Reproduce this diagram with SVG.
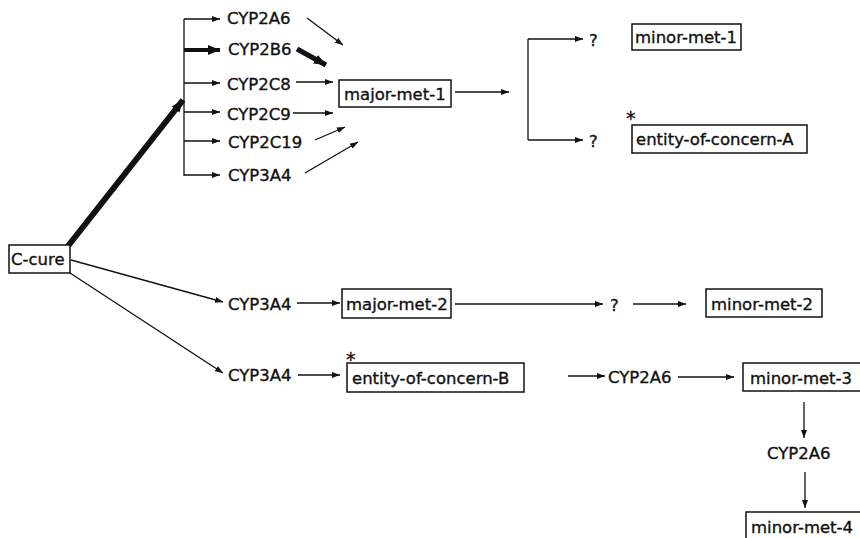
<svg xmlns="http://www.w3.org/2000/svg" width="860" height="538" viewBox="0 0 860 538">
<style>
text{font-family:"DejaVu Sans",sans-serif;font-size:16.5px;fill:#111;stroke:#111;stroke-width:0.35;}
.box{fill:#fff;stroke:#111;stroke-width:1.5;}
.ln{fill:none;stroke:#111;stroke-width:1.3;}
.ar{fill:none;stroke:#111;stroke-width:1.3;marker-end:url(#ah);}
.thk{fill:none;stroke:#111;stroke-width:4.5;marker-end:url(#ahb);}
</style>
<defs>
<marker id="ah" markerUnits="userSpaceOnUse" viewBox="0 0 8 6" refX="8" refY="3" markerWidth="8" markerHeight="6" orient="auto"><path d="M0,0 L8,3 L0,6 Z" fill="#111"/></marker>
<marker id="ahb" markerUnits="userSpaceOnUse" viewBox="0 0 12 10" refX="12" refY="5" markerWidth="12" markerHeight="10" orient="auto"><path d="M0,0 L12,5 L0,10 Z" fill="#111"/></marker>
</defs>
<rect width="860" height="538" fill="#fff"/>
<g id="connectors">
<line class="ln" x1="184" y1="19" x2="184" y2="176"/>
<line class="ar" x1="184" y1="19" x2="220" y2="19"/>
<line class="thk" x1="184" y1="50" x2="220" y2="50" style="stroke-width:4"/>
<line class="ar" x1="184" y1="83" x2="220" y2="83"/>
<line class="ar" x1="184" y1="112" x2="220" y2="112"/>
<line class="ar" x1="184" y1="141" x2="220" y2="141"/>
<line class="ar" x1="184" y1="175" x2="220" y2="175"/>
<line class="thk" x1="68" y1="246" x2="183" y2="100" style="stroke-width:6"/>
<line class="ar" x1="307" y1="18" x2="343" y2="45"/>
<line class="thk" x1="297" y1="49" x2="326" y2="65" style="stroke-width:5"/>
<line class="ar" x1="296" y1="82" x2="333" y2="82"/>
<line class="ar" x1="293" y1="113" x2="333" y2="113"/>
<line class="ar" x1="315" y1="140" x2="345" y2="127"/>
<line class="ar" x1="305" y1="173" x2="358" y2="142"/>
<line class="ar" x1="455" y1="92" x2="509" y2="92"/>
<line class="ln" x1="528" y1="39" x2="528" y2="140"/>
<line class="ar" x1="528" y1="39" x2="583" y2="39"/>
<line class="ar" x1="528" y1="140" x2="583" y2="140"/>
<line class="ar" x1="71" y1="260" x2="223" y2="302"/>
<line class="ar" x1="70" y1="273" x2="223" y2="373"/>
<line class="ar" x1="297" y1="303" x2="340" y2="303"/>
<line class="ar" x1="455" y1="304" x2="603" y2="304"/>
<line class="ar" x1="633" y1="304" x2="686" y2="304"/>
<line class="ar" x1="298" y1="375" x2="340" y2="375"/>
<line class="ar" x1="568" y1="376" x2="605" y2="376"/>
<line class="ar" x1="678" y1="377" x2="734" y2="377"/>
<line class="ar" x1="804" y1="402" x2="804" y2="438"/>
<line class="ar" x1="805" y1="472" x2="805" y2="508"/>
</g>
<g id="enzymes">
<text x="227" y="24">CYP2A6</text>
<text x="228" y="55">CYP2B6</text>
<text x="227" y="90">CYP2C8</text>
<text x="227" y="120">CYP2C9</text>
<text x="228" y="148">CYP2C19</text>
<text x="228" y="181">CYP3A4</text>
<text x="228" y="310">CYP3A4</text>
<text x="228" y="381">CYP3A4</text>
<text x="608" y="383">CYP2A6</text>
<text x="767" y="459">CYP2A6</text>
<text x="589" y="46">?</text>
<text x="589" y="147">?</text>
<text x="610" y="311">?</text>
<text x="626" y="125" style="font-size:19px">*</text>
<text x="346" y="366" style="font-size:19px">*</text>
</g>
<g id="c-cure"><rect class="box" x="9" y="245" width="61" height="28"/><text x="11" y="265">C-cure</text></g>
<g id="major-met-1"><rect class="box" x="339" y="80" width="112" height="27"/><text x="344" y="100">major-met-1</text></g>
<g id="minor-met-1"><rect class="box" x="632" y="24" width="109" height="26"/><text x="635" y="43">minor-met-1</text></g>
<g id="entity-of-concern-A"><rect class="box" x="632" y="125" width="175" height="28"/><text x="636" y="145">entity-of-concern-A</text></g>
<g id="major-met-2"><rect class="box" x="342" y="289" width="109" height="29"/><text x="346" y="310">major-met-2</text></g>
<g id="minor-met-2"><rect class="box" x="706" y="289" width="116" height="28"/><text x="711" y="310">minor-met-2</text></g>
<g id="entity-of-concern-B"><rect class="box" x="347" y="363" width="177" height="29"/><text x="352" y="384">entity-of-concern-B</text></g>
<g id="minor-met-3"><rect class="box" x="743" y="363" width="130" height="28"/><text x="750" y="384">minor-met-3</text></g>
<g id="minor-met-4"><rect class="box" x="746" y="512" width="130" height="40"/><text x="751" y="533">minor-met-4</text></g>
</svg>
